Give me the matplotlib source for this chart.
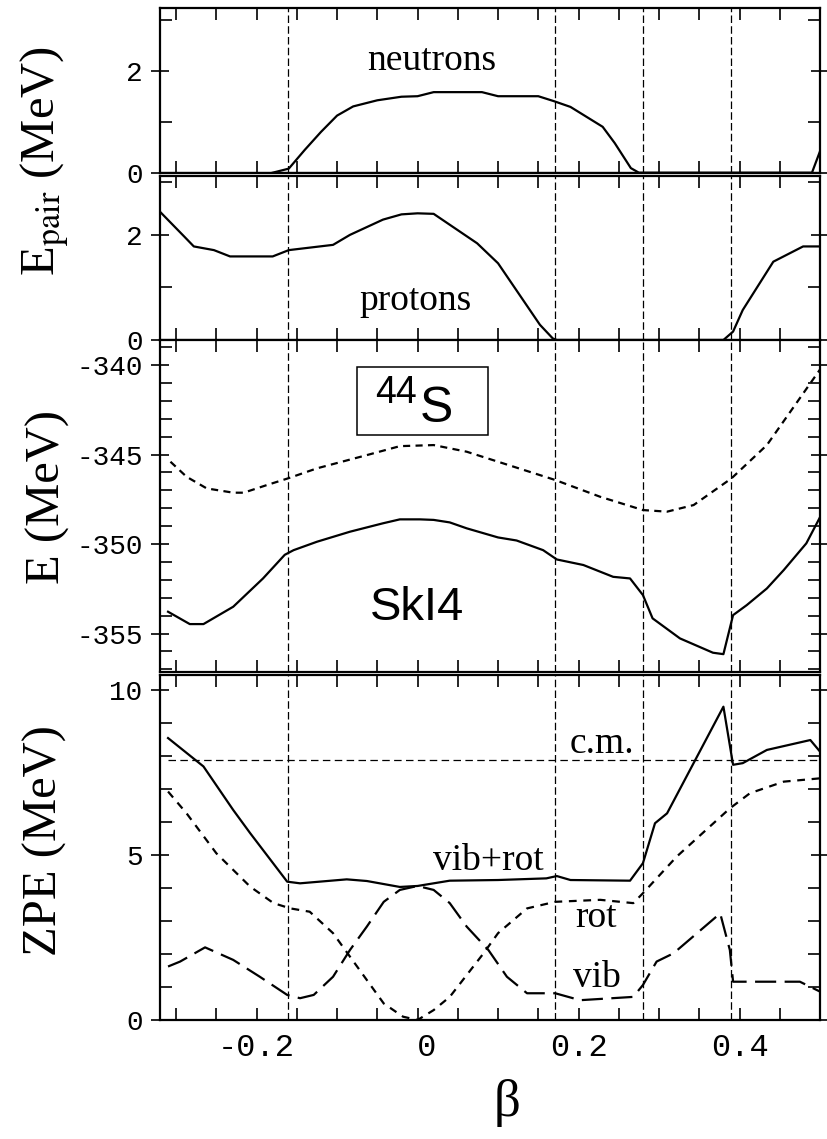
import matplotlib
matplotlib.use("Agg")

import numpy as np
import matplotlib.pyplot as plt
from matplotlib.ticker import MultipleLocator, FixedLocator, FuncFormatter
from matplotlib.patches import Rectangle

plt.rcParams['axes.unicode_minus'] = False
plt.rcParams['mathtext.fontset'] = 'stix'

# pairing energies (MeV)
beta_n = [-0.18, -0.16, -0.14, -0.12, -0.10, -0.08, -0.05, -0.02, 0.0, 0.02, 0.08, 0.10,
          0.15, 0.17, 0.19, 0.23, 0.245, 0.265, 0.275, 0.49, 0.50]
pair_n = [0.0, 0.08, 0.45, 0.80, 1.12, 1.30, 1.42, 1.49, 1.50, 1.58, 1.58, 1.50,
          1.50, 1.40, 1.29, 0.90, 0.58, 0.09, 0.0, 0.0, 0.42]

beta_p = [-0.32, -0.29, -0.278, -0.253, -0.233, -0.18, -0.16, -0.105, -0.084, -0.043, -0.02,
          0.0, 0.02, 0.074, 0.10, 0.152, 0.168, 0.173, 0.38, 0.392, 0.404, 0.442, 0.479, 0.50]
pair_p = [2.44, 1.97, 1.78, 1.71, 1.59, 1.59, 1.71, 1.81, 2.00, 2.29, 2.39,
          2.41, 2.40, 1.84, 1.46, 0.29, 0.03, 0.0, 0.0, 0.16, 0.57, 1.49, 1.78, 1.78]

# binding energies (MeV)
beta_E = [-0.31, -0.283, -0.266, -0.229, -0.192, -0.165, -0.154, -0.125, -0.084, -0.043, -0.022,
          0.003, 0.02, 0.04, 0.061, 0.10, 0.123, 0.156, 0.173, 0.206, 0.243, 0.264, 0.28,
          0.292, 0.326, 0.367, 0.38, 0.392, 0.409, 0.434, 0.455, 0.483, 0.50]
e_corr = [-353.78, -354.47, -354.47, -353.5, -351.92, -350.6, -350.34, -349.87, -349.31, -348.84, -348.62,
          -348.62, -348.65, -348.79, -349.12, -349.63, -349.8, -350.34, -350.86, -351.17, -351.83, -351.92, -352.85,
          -354.15, -355.27, -356.07, -356.15, -353.97, -353.41, -352.48, -351.45, -349.96, -348.5]

beta_Ed = [-0.307, -0.287, -0.262, -0.229, -0.216, -0.187, -0.161, -0.125, -0.063, -0.022, 0.02,
           0.061, 0.10, 0.171, 0.227, 0.28, 0.31, 0.343, 0.39, 0.434, 0.50]
e_mf = [-345.4, -346.24, -346.89, -347.13, -347.13, -346.7, -346.33, -345.77, -345.03, -344.53, -344.47,
        -344.84, -345.4, -346.42, -347.36, -348.1, -348.19, -347.82, -346.33, -344.47, -340.25]

# zero point energies (MeV)
beta_z = [-0.31, -0.266, -0.229, -0.208, -0.162, -0.146, -0.088, -0.063, -0.022, 0.0, 0.04, 0.10,
          0.16, 0.173, 0.19, 0.264, 0.28, 0.295, 0.31, 0.38, 0.392, 0.404, 0.434, 0.488, 0.50]
zpe_tot = [8.54, 7.68, 6.36, 5.66, 4.19, 4.14, 4.26, 4.21, 4.03, 4.06, 4.22, 4.24,
           4.29, 4.36, 4.24, 4.22, 4.75, 5.96, 6.26, 9.49, 7.73, 7.78, 8.18, 8.48, 8.13]

beta_r = [-0.31, -0.287, -0.25, -0.208, -0.179, -0.158, -0.134, -0.105, -0.063, -0.042, -0.018, 0.0,
          0.02, 0.04, 0.082, 0.10, 0.136, 0.171, 0.227, 0.268, 0.28, 0.322, 0.388, 0.413, 0.455, 0.50]
zpe_rot = [6.92, 6.26, 5.05, 4.04, 3.54, 3.38, 3.28, 2.63, 1.21, 0.5, 0.1, 0.0,
           0.3, 0.7, 2.02, 2.63, 3.38, 3.58, 3.64, 3.54, 3.84, 4.95, 6.41, 6.87, 7.22, 7.32]

beta_v = [-0.31, -0.295, -0.264, -0.229, -0.196, -0.162, -0.146, -0.129, -0.105, -0.084, -0.063,
          -0.042, -0.022, 0.0, 0.02, 0.04, 0.061, 0.088, 0.111, 0.136, 0.171, 0.202, 0.268,
          0.28, 0.297, 0.318, 0.376, 0.388, 0.392, 0.475, 0.50]
zpe_vib = [1.62, 1.77, 2.2, 1.82, 1.31, 0.76, 0.66, 0.76, 1.31, 2.12, 2.83,
           3.58, 3.94, 4.06, 3.94, 3.54, 2.83, 2.12, 1.31, 0.81, 0.81, 0.6, 0.7,
           1.06, 1.77, 2.02, 3.23, 2.12, 1.16, 1.16, 0.86]

beta_cm = [-0.31, 0.50]
zpe_cm = [7.87, 7.87]

# transition points
beta_lines = [-0.161, 0.171, 0.28, 0.39]

W, H = 827, 1139
fig = plt.figure(figsize=(W / 100, H / 100), dpi=100)

def px_axes(top, bottom, left=160, right=820):
    return fig.add_axes([left / W, (H - bottom) / H, (right - left) / W, (bottom - top) / H])

def ftxt(x, y, s, **kw):
    fig.text(x / W, 1 - y / H, s, **kw)

ax1 = px_axes(8, 172.7)
ax2 = px_axes(176, 340)
ax3 = px_axes(340, 671.7)
ax4 = px_axes(675, 1020)

mono = 'Liberation Mono'
serif = 'Liberation Serif'

for ax in (ax1, ax2, ax3, ax4):
    ax.set_xlim(-0.32, 0.5)
    ax.xaxis.set_major_locator(MultipleLocator(0.2))
    ax.xaxis.set_minor_locator(MultipleLocator(0.05))
    ax.tick_params(which='both', direction='in', top=True, right=True, length=8.5, width=1.2)
    ax.tick_params(axis='y', which='major', direction='inout', length=13)
    for sp in ax.spines.values():
        sp.set_linewidth(1.6)
    for b in beta_lines:
        ax.axvline(b, color='k', lw=0.9, dashes=(6, 2.6))
    for lab in ax.get_yticklabels():
        lab.set_fontfamily(mono)
    ax.tick_params(axis='y', labelsize=20, pad=6)
    if ax is not ax4:
        ax.tick_params(axis='x', labelbottom=False)

# neutrons
ax1.plot(beta_n, pair_n, color='k', lw=1.6)
ax1.axhline(0, color='k', lw=1.6)
ax1.set_ylim(0, 3.23)
ax1.yaxis.set_major_locator(FixedLocator([0, 2]))
ax1.yaxis.set_minor_locator(FixedLocator([1, 3]))

# protons
ax2.plot(beta_p, pair_p, color='k', lw=1.6)
ax2.set_ylim(0, 3.12)
ax2.yaxis.set_major_locator(FixedLocator([0, 2]))
ax2.yaxis.set_minor_locator(FixedLocator([1, 3]))

# energies
ax3.plot(beta_E, e_corr, color='k', lw=1.6)
ax3.plot(beta_Ed, e_mf, color='k', lw=1.6, dashes=(3.2, 2.4))
ax3.set_ylim(-357.13, -338.6)
ax3.yaxis.set_major_locator(MultipleLocator(5))
ax3.yaxis.set_minor_locator(MultipleLocator(1))

# zero point energies
ax4.plot(beta_z, zpe_tot, color='k', lw=1.6)
ax4.plot(beta_r, zpe_rot, color='k', lw=1.6, dashes=(3.5, 3.0))
ax4.plot(beta_v, zpe_vib, color='k', lw=1.6, dashes=(9.5, 3.8))
ax4.plot(beta_cm, zpe_cm, color='k', lw=0.9, dashes=(6, 3.5))
ax4.set_ylim(0, 10.45)
ax4.yaxis.set_major_locator(MultipleLocator(5))
ax4.yaxis.set_minor_locator(MultipleLocator(1))
ax4.xaxis.set_major_formatter(FuncFormatter(lambda v, p: ' 0' if abs(v) < 1e-9 else '%.1f' % v))
for lab in ax4.get_xticklabels():
    lab.set_fontfamily(mono)
ax4.tick_params(axis='x', labelsize=23, pad=9)

# labels
ftxt(45, 161, r"E$_{\rm pair}$ (MeV)", rotation=90, ha='center', va='center', family=serif, size=35)
ftxt(48, 497, "E (MeV)", rotation=90, ha='center', va='center', family=serif, size=35)
ftxt(45, 841, "ZPE (MeV)", rotation=90, ha='center', va='center', family=serif, size=35)
ftxt(507, 1103, "β", ha='center', va='center', family=serif, size=38)

ftxt(432, 70, "neutrons", ha='center', va='baseline', family=serif, size=27)
ftxt(416, 310, "protons", ha='center', va='baseline', family=serif, size=27)
ftxt(570, 753, "c.m.", ha='left', va='baseline', family=serif, size=27)
ftxt(433, 870, "vib+rot", ha='left', va='baseline', family=serif, size=27)
ftxt(575, 927, "rot", ha='left', va='baseline', family=serif, size=27)
ftxt(573, 987, "vib", ha='left', va='baseline', family=serif, size=27)

ftxt(370, 620, "SkI4", ha='left', va='baseline', family='Liberation Sans', size=34)
ftxt(375, 403, "44", ha='left', va='baseline', family='Liberation Sans', size=27)
ftxt(420, 422, "S", ha='left', va='baseline', family='Liberation Sans', size=36)
fig.add_artist(Rectangle((356.5 / W, 1 - 435 / H), 131.5 / W, 68 / H, transform=fig.transFigure,
                         fill=False, edgecolor='k', lw=1.1))

fig.savefig("out.png", dpi=100)
